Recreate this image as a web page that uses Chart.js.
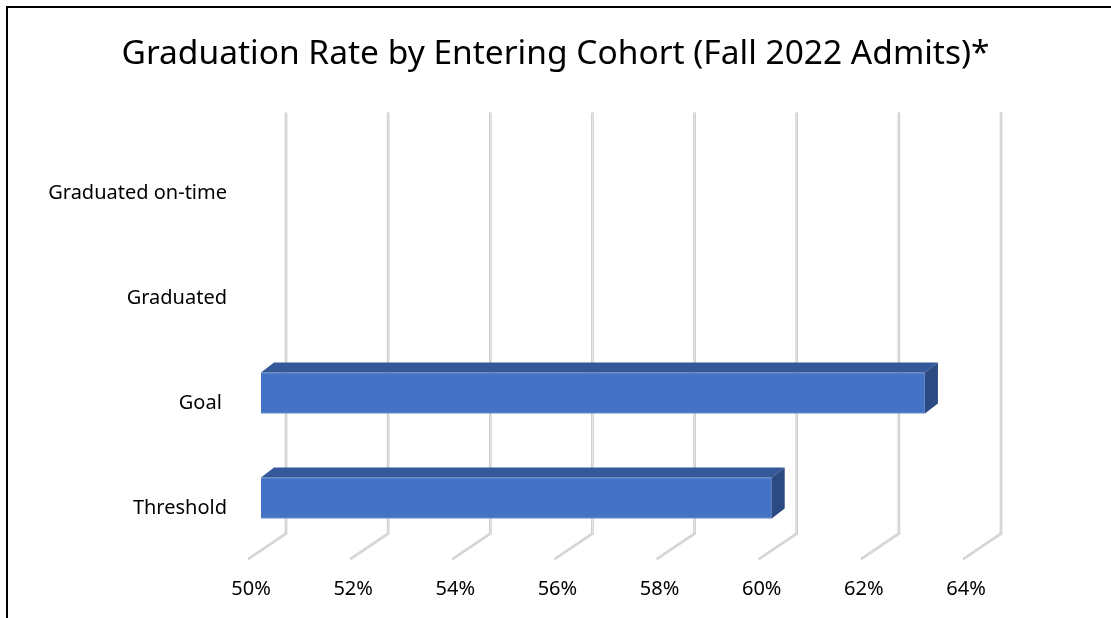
<!DOCTYPE html>
<html>
<head>
<meta charset="utf-8">
<script src="https://cdn.jsdelivr.net/npm/chart.js@4.4.0/dist/chart.umd.min.js"></script>
<style>
  html, body { margin: 0; padding: 0; background: #fff; overflow: hidden; }
  #wrap { position: relative; width: 1111px; height: 618px; }
  #frame {
    position: absolute; left: 6px; top: 6px; width: 1200px; height: 700px;
    border-left: 2px solid #000; border-top: 2px solid #000; pointer-events: none;
  }
  canvas { position: absolute; left: 0; top: 0; }
</style>
</head>
<body>
<div id="wrap">
  <canvas id="chart" width="1111" height="618"></canvas>
  <div id="frame"></div>
</div>
<script>
/* Graduation rate by entering cohort - 3D-style horizontal bars */

const categories = ['Graduated on-time', 'Graduated', 'Goal ', 'Threshold'];
const rates = [null, null, 63, 60];
const tickValues = [50, 52, 54, 56, 58, 60, 62, 64];

const FONT = '"Noto Sans", "Open Sans", sans-serif';

// depth offsets for the fake 3D look
const BAR_DX = 13, BAR_DY = -10;
const WALL_DX = 25, WALL_DY = -17;
const FLOOR_DX = -12, FLOOR_DY = 8;

const depthPlugin = {
    id: 'depth',
    afterLayout(chart) {
        // keep the title centred on the whole canvas, not the padded area
        const t = chart.titleBlock;
        if (t) {
            t.left = 0;
            t.right = chart.width;
            t.width = chart.width;
        }
    },
    beforeDatasetsDraw(chart) {
        const { ctx, chartArea, scales } = chart;
        const x = scales.x;
        ctx.save();
        ctx.lineCap = 'round';
        tickValues.forEach(v => {
            const px = x.getPixelForValue(v);
            const bx = px + WALL_DX;
            const topY = chartArea.top + WALL_DY;
            const botY = chartArea.bottom + WALL_DY;
            // wall line + floor line
            ctx.beginPath();
            ctx.moveTo(bx, topY);
            ctx.lineTo(bx, botY);
            ctx.lineTo(px + FLOOR_DX, chartArea.bottom + FLOOR_DY);
            ctx.strokeStyle = '#c9c9c9';
            ctx.lineWidth = 2.6;
            ctx.stroke();
            ctx.strokeStyle = '#ececec';
            ctx.lineWidth = 0.8;
            ctx.stroke();
        });
        ctx.restore();
    },
    afterDatasetsDraw(chart) {
        const { ctx, chartArea } = chart;
        const meta = chart.getDatasetMeta(0);
        ctx.save();
        meta.data.forEach((bar, i) => {
            if (rates[i] == null) return;
            const p = bar.getProps(['x', 'y', 'base', 'height'], true);
            const left = Math.max(p.base, chartArea.left), right = p.x;
            const top = p.y - p.height / 2, bottom = p.y + p.height / 2;
            // top face
            ctx.beginPath();
            ctx.moveTo(left, top);
            ctx.lineTo(left + BAR_DX, top + BAR_DY);
            ctx.lineTo(right + BAR_DX, top + BAR_DY);
            ctx.lineTo(right, top);
            ctx.closePath();
            ctx.fillStyle = '#35589a';
            ctx.fill();
            // side face
            ctx.beginPath();
            ctx.moveTo(right, top);
            ctx.lineTo(right + BAR_DX, top + BAR_DY);
            ctx.lineTo(right + BAR_DX, bottom + BAR_DY);
            ctx.lineTo(right, bottom);
            ctx.closePath();
            ctx.fillStyle = '#2b4a82';
            ctx.fill();
        });
        ctx.restore();
    }
};

new Chart(document.getElementById('chart'), {
    type: 'bar',
    data: {
        labels: categories,
        datasets: [{
            data: rates,
            backgroundColor: '#4472c4',
            borderColor: '#7394d0',
            borderWidth: 1,
            borderSkipped: false,
            barThickness: 41
        }]
    },
    options: {
        indexAxis: 'y',
        responsive: false,
        animation: false,
        layout: { padding: { left: 20, right: 135, top: 0, bottom: 0 } },
        plugins: {
            legend: { display: false },
            tooltip: { enabled: false },
            title: {
                display: true,
                text: 'Graduation Rate by Entering Cohort (Fall 2022 Admits)*',
                color: '#000',
                font: { family: FONT, size: 33.5, weight: 'normal' },
                padding: { top: 34, bottom: 56.4 }
            }
        },
        scales: {
            x: {
                min: 50,
                max: 64,
                afterBuildTicks: s => { s.ticks = tickValues.map(v => ({ value: v })); },
                afterFit: s => { s.height = 67.5; },
                grid: { display: false, drawTicks: false },
                border: { display: false },
                ticks: {
                    color: '#000',
                    font: { family: FONT, size: 20 },
                    padding: 27,
                    labelOffset: -10,
                    callback: v => v + '%'
                }
            },
            y: {
                afterFit: s => { s.width = 241; },
                grid: { display: false, drawTicks: false },
                border: { display: false },
                ticks: {
                    color: '#000',
                    font: { family: FONT, size: 20 },
                    padding: 34,
                    labelOffset: 10
                }
            }
        }
    },
    plugins: [depthPlugin]
});
</script>
</body>
</html>
